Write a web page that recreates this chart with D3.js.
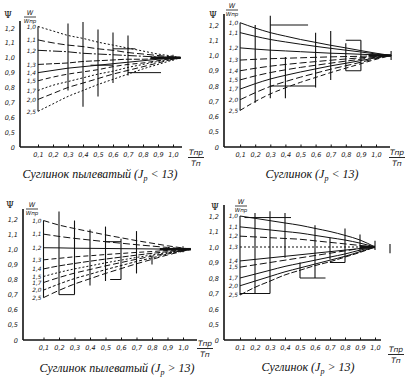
<!DOCTYPE html>
<html><head><meta charset="utf-8">
<script src="https://cdn.jsdelivr.net/npm/d3@7"></script>
<style>body{margin:0;background:#fff}svg{display:block}</style>
</head><body>
<svg id="c" width="416" height="379"></svg>
<script>
// ---------- data ----------
const curveLabels = ["1,0","1,1","1,2","1,3","1,4","1,5","1,7","2,0","2,5"];
const xTicks = [0.1,0.2,0.3,0.4,0.5,0.6,0.7,0.8,0.9,1.0];
const xTickLabels = ["0,1","0,2","0,3","0,4","0,5","0,6","0,7","0,8","0,9","1,0"];
const yTicks = [0.4,0.5,0.6,0.7,0.8,0.9,1.0,1.1,1.2];
const yTickLabels = ["0","0,5","0,6","0,7","0,8","0,9","1,0","1,1","1,2"];
const captionSoil = ["Суглинок пылеватый", "Суглинок", "Суглинок пылеватый", "Суглинок"];
const captionSign = ["<", "<", ">", ">"];

// panel 1: Суглинок пылеватый (Jp < 13)
const xs1 = [0.1,0.2,0.3,0.4,0.5,0.6,0.7,0.8,0.9,1.0,1.05];
const psi1 = [
 [1.21,1.18,1.15,1.13,1.105,1.085,1.065,1.045,1.025,1.01,1.0],
 [1.12,1.10,1.085,1.075,1.06,1.05,1.035,1.025,1.015,1.005,1.0],
 [1.05,1.045,1.04,1.03,1.025,1.02,1.015,1.01,1.005,1.0,1.0],
 [0.955,0.96,0.965,0.975,0.98,0.985,0.99,0.99,0.995,1.0,1.0],
 [0.90,0.915,0.93,0.94,0.95,0.96,0.97,0.98,0.99,0.995,1.0],
 [0.845,0.87,0.89,0.905,0.92,0.94,0.955,0.965,0.98,0.995,1.0],
 [0.78,0.815,0.84,0.865,0.89,0.91,0.935,0.955,0.975,0.99,1.0],
 [0.72,0.76,0.80,0.83,0.86,0.89,0.915,0.94,0.965,0.99,1.0],
 [0.64,0.69,0.74,0.78,0.82,0.855,0.89,0.925,0.955,0.985,1.0]
];
const rangesV1 = [[0.1,0.64,1.21],[0.3,0.78,1.23],[0.4,0.67,1.24],[0.5,0.74,1.19],[0.6,0.83,1.17],[0.7,0.88,1.15],[1.0,0.98,1.02]];
const rangesH1 = [[0.9,0.7,0.92],[1.06,0.6,0.75],[0.95,0.45,0.6]];
const thick1 = [[1.0,0.85,1.05]];

// panel 2: Суглинок (Jp < 13)
const xs2 = [0.1,0.2,0.3,0.4,0.5,0.6,0.7,0.8,0.9,1.0,1.1];
const psi2 = [
 [1.215,1.18,1.15,1.127,1.105,1.086,1.067,1.05,1.032,1.015,1.0],
 [1.15,1.126,1.105,1.089,1.074,1.06,1.047,1.035,1.023,1.01,1.0],
 [1.05,1.042,1.035,1.03,1.025,1.02,1.015,1.012,1.008,1.004,1.0],
 [0.97,0.975,0.979,0.982,0.985,0.988,0.991,0.993,0.995,0.998,1.0],
 [0.90,0.916,0.93,0.941,0.951,0.96,0.969,0.977,0.985,0.993,1.0],
 [0.84,0.866,0.888,0.906,0.922,0.936,0.95,0.963,0.976,0.989,1.0],
 [0.78,0.815,0.846,0.87,0.892,0.912,0.932,0.949,0.967,0.985,1.0],
 [0.71,0.756,0.797,0.829,0.858,0.884,0.91,0.933,0.956,0.98,1.0],
 [0.64,0.698,0.748,0.788,0.824,0.856,0.888,0.917,0.946,0.975,1.0]
];
const rangesV2 = [[0.1,0.64,1.215],[0.2,0.69,1.2],[0.3,0.72,1.26],[0.4,0.72,0.99],[0.6,0.79,1.15],[0.7,0.84,1.16],[0.8,0.9,1.08],[0.9,0.9,1.1],[1.1,0.97,1.03]];
const rangesH2 = [[1.2,0.3,0.55],[0.8,0.3,0.6],[1.1,0.8,0.9],[0.9,0.8,0.9]];
const thick2 = [[1.0,0.95,1.1]];

// panel 3: Суглинок пылеватый (Jp > 13)
const xs3 = [0.1,0.2,0.3,0.4,0.5,0.6,0.7,0.8,0.9,1.0,1.05];
const psi3 = [
 [1.19,1.16,1.137,1.116,1.095,1.076,1.057,1.04,1.023,1.008,1.0],
 [1.10,1.085,1.072,1.061,1.05,1.04,1.03,1.021,1.012,1.004,1.0],
 [1.01,1.009,1.007,1.006,1.005,1.004,1.003,1.002,1.001,1.0,1.0],
 [0.93,0.94,0.95,0.957,0.965,0.972,0.979,0.985,0.992,0.997,1.0],
 [0.87,0.89,0.906,0.921,0.935,0.948,0.961,0.973,0.984,0.995,1.0],
 [0.82,0.847,0.87,0.89,0.91,0.928,0.946,0.962,0.978,0.993,1.0],
 [0.78,0.813,0.842,0.866,0.89,0.912,0.934,0.954,0.974,0.991,1.0],
 [0.73,0.77,0.806,0.835,0.865,0.892,0.919,0.943,0.968,0.989,1.0],
 [0.68,0.728,0.77,0.805,0.84,0.872,0.904,0.933,0.962,0.987,1.0]
];
const rangesV3 = [[0.1,0.68,1.19],[0.2,0.70,1.25],[0.3,0.70,1.19],[0.4,0.76,1.13],[0.5,0.79,1.15],[0.6,0.80,1.07],[0.7,0.84,1.12],[0.8,0.9,0.95],[1.0,0.98,1.02]];
const rangesH3 = [[0.70,0.2,0.3],[0.80,0.53,0.6],[1.05,0.5,0.6]];
const thick3 = [[1.0,0.85,1.05]];

// panel 4: Суглинок (Jp > 13)
const xs4 = [0.1,0.2,0.3,0.4,0.5,0.6,0.7,0.8,0.9,1.0];
const psi4 = [
 [1.20,1.185,1.17,1.155,1.14,1.12,1.10,1.075,1.045,1.0],
 [1.13,1.12,1.11,1.10,1.09,1.075,1.06,1.045,1.025,1.0],
 [1.07,1.065,1.06,1.055,1.05,1.04,1.03,1.02,1.01,1.0],
 [1.0,1.0,1.0,1.0,1.0,1.0,1.0,1.0,1.0,1.0],
 [0.91,0.92,0.93,0.94,0.95,0.96,0.97,0.98,0.99,1.0],
 [0.87,0.885,0.90,0.915,0.93,0.945,0.96,0.975,0.99,1.0],
 [0.80,0.825,0.85,0.875,0.895,0.915,0.935,0.955,0.98,1.0],
 [0.75,0.78,0.81,0.84,0.865,0.89,0.915,0.94,0.97,1.0],
 [0.69,0.74,0.78,0.82,0.85,0.88,0.905,0.935,0.965,1.0]
];
const rangesV4 = [[0.1,0.69,1.2],[0.2,0.70,1.22],[0.3,0.70,1.23],[0.4,0.93,1.22],[0.5,0.8,0.9],[0.6,0.8,1.14],[0.7,0.92,1.06],[0.8,0.9,1.12],[0.9,0.97,1.08],[1.0,0.98,1.04],[1.1,0.96,1.02]];
const rangesH4 = [[0.70,0.1,0.3],[1.19,0.13,0.44],[0.8,0.5,0.67],[0.9,0.7,0.8]];
const thick4 = [[1.0,0.9,1.0]];

// ---------- layout / styles ----------
const layout = [
 {x0:23, x1:173, yb:147, yt:28, ax:20, atop:21, xend:182, psi:[8,18], wx:30, wy:15, tx:196, ty:155, cx:100, cy:178},
 {x0:225,x1:376, yb:147, yt:25, ax:224,atop:14, xend:390, psi:[213,18], wx:232, wy:8, tx:397, ty:155, cx:312, cy:178},
 {x0:28, x1:183, yb:340, yt:219, ax:23, atop:209,xend:197, psi:[10,208], wx:32, wy:207, tx:205, ty:346, cx:117, cy:372},
 {x0:225,x1:375, yb:340, yt:216, ax:224,atop:205,xend:381, psi:[215,210], wx:241, wy:204, tx:396, ty:352, cx:308, cy:371}
];
const dashes = [
 ["2,2","7,3","9,2,2,2","6,2",null,"5,3","2,2","6,3","2,2"],
 [null,null,null,"7,3","7,3","7,3",null,"7,3","5,3"],
 ["6,3","7,3",null,"5,3","6,2","2,2","6,3","3,2","6,3"],
 [null,null,"7,3","2,2",null,"7,3",null,null,"6,2"]
];
const panelData = [
 {xs:xs1, psi:psi1, rv:rangesV1, rh:rangesH1, th:thick1},
 {xs:xs2, psi:psi2, rv:rangesV2, rh:rangesH2, th:thick2},
 {xs:xs3, psi:psi3, rv:rangesV3, rh:rangesH3, th:thick3},
 {xs:xs4, psi:psi4, rv:rangesV4, rh:rangesH4, th:thick4}
];

const svg = d3.select("#c");
const ink = "#111";

panelData.forEach((P, i) => {
  const L = layout[i];
  const g = svg.append("g");
  const x = d3.scaleLinear().domain([0,1]).range([L.x0, L.x1]);
  const y = d3.scaleLinear().domain([0.4,1.2]).range([L.yb, L.yt]);

  // axes lines
  g.append("line").attr("x1",L.ax).attr("x2",L.ax).attr("y1",L.atop).attr("y2",L.yb)
    .attr("stroke",ink).attr("stroke-width",1.6);
  g.append("line").attr("x1",L.ax).attr("x2",L.xend).attr("y1",L.yb).attr("y2",L.yb)
    .attr("stroke",ink).attr("stroke-width",1.3);

  // x axis ticks & labels
  const xa = d3.axisBottom(x).tickValues(xTicks).tickSize(-2.5).tickPadding(5)
    .tickFormat((d,k)=>xTickLabels[k]);
  const gx = g.append("g").attr("transform",`translate(0,${L.yb})`).call(xa);
  gx.select(".domain").remove();
  gx.selectAll(".tick line").attr("stroke",ink);
  gx.selectAll("text").attr("font-family","DejaVu Sans").attr("font-style","italic")
    .attr("font-size",6.5).attr("fill",ink);

  // y axis labels
  const ya = d3.axisLeft(y).tickValues(yTicks).tickSize(0).tickPadding(5)
    .tickFormat((d,k)=>yTickLabels[k]);
  const gy = g.append("g").attr("transform",`translate(${L.ax},0)`).call(ya);
  gy.select(".domain").remove();
  gy.selectAll("text").attr("font-family","DejaVu Sans").attr("font-style","italic")
    .attr("font-size",6.5).attr("fill",ink);

  // Ψ label
  g.append("text").attr("x",L.psi[0]).attr("y",L.psi[1]).attr("text-anchor","middle")
    .attr("font-family","DejaVu Serif").attr("font-size",9).attr("fill",ink).text("Ψ");
  // W / Wпр fraction
  g.append("text").attr("x",L.wx).attr("y",L.wy).attr("text-anchor","middle")
    .attr("font-family","DejaVu Sans").attr("font-style","italic").attr("font-size",6.5).attr("fill",ink).text("W");
  g.append("line").attr("x1",L.wx-6).attr("x2",L.wx+6).attr("y1",L.wy+2).attr("y2",L.wy+2)
    .attr("stroke",ink).attr("stroke-width",0.8);
  g.append("text").attr("x",L.wx).attr("y",L.wy+8).attr("text-anchor","middle")
    .attr("font-family","DejaVu Sans").attr("font-style","italic").attr("font-size",5.5).attr("fill",ink).text("Wпр");

  // T fraction
  g.append("text").attr("x",L.tx).attr("y",L.ty).attr("text-anchor","middle")
    .attr("font-family","DejaVu Sans").attr("font-style","italic").attr("font-size",7.5).attr("fill",ink).text("Tпр");
  g.append("line").attr("x1",L.tx-8).attr("x2",L.tx+8).attr("y1",L.ty+2.5).attr("y2",L.ty+2.5)
    .attr("stroke",ink).attr("stroke-width",0.9);
  g.append("text").attr("x",L.tx).attr("y",L.ty+10.5).attr("text-anchor","middle")
    .attr("font-family","DejaVu Sans").attr("font-style","italic").attr("font-size",7.5).attr("fill",ink).text("Tп");

  // caption
  const cap = g.append("text").attr("x",L.cx).attr("y",L.cy).attr("text-anchor","middle")
    .attr("font-family","Liberation Serif").attr("font-style","italic").attr("font-size",12).attr("fill",ink);
  cap.append("tspan").text(captionSoil[i] + " (J");
  cap.append("tspan").attr("font-size",8).attr("dy",2.5).text("p");
  cap.append("tspan").attr("dy",-2.5).text(" " + captionSign[i] + " 13)");

  // range bars
  g.selectAll(".rv").data(P.rv).enter().append("line")
    .attr("x1",d=>x(d[0])).attr("x2",d=>x(d[0])).attr("y1",d=>y(d[1])).attr("y2",d=>y(d[2]))
    .attr("stroke",ink).attr("stroke-width",1.1);
  g.selectAll(".rh").data(P.rh).enter().append("line")
    .attr("x1",d=>x(d[1])).attr("x2",d=>x(d[2])).attr("y1",d=>y(d[0])).attr("y2",d=>y(d[0]))
    .attr("stroke",ink).attr("stroke-width",1);
  g.selectAll(".th").data(P.th).enter().append("line")
    .attr("x1",d=>x(d[1])).attr("x2",d=>x(d[2])).attr("y1",d=>y(d[0])).attr("y2",d=>y(d[0]))
    .attr("stroke",ink).attr("stroke-width",2.6);

  // curves
  const line = d3.line().curve(d3.curveMonotoneX);
  P.psi.forEach((vals, k) => {
    const pts = vals.map((v,j)=>[x(P.xs[j]), y(v)]);
    const path = g.append("path").attr("d", line(pts)).attr("fill","none")
      .attr("stroke",ink).attr("stroke-width",1);
    if (dashes[i][k]) path.attr("stroke-dasharray", dashes[i][k]);
    g.append("text").attr("x", x(P.xs[0]) - 2).attr("y", y(vals[0]) + 2.2)
      .attr("text-anchor","end").attr("font-family","DejaVu Sans").attr("font-style","italic")
      .attr("font-size",5.8).attr("fill",ink).text(curveLabels[k]);
  });
});
</script>
</body></html>
